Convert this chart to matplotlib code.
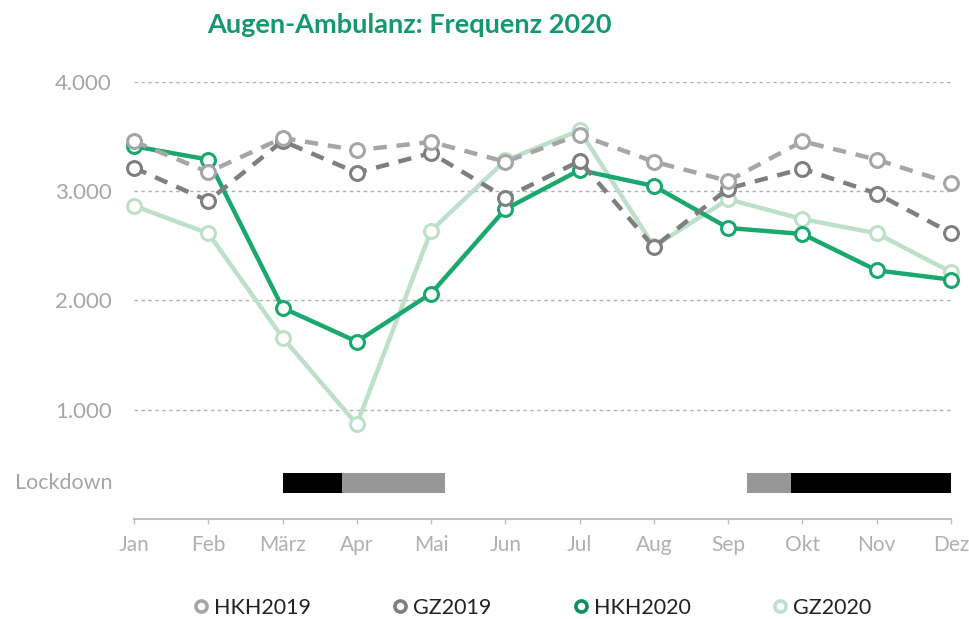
import matplotlib
matplotlib.use("Agg")
import matplotlib.pyplot as plt
from matplotlib.lines import Line2D
from matplotlib.ticker import FuncFormatter

months = ["Jan", "Feb", "März", "Apr", "Mai", "Jun", "Jul", "Aug", "Sep", "Okt", "Nov", "Dez"]
hkh2019 = [3457, 3175, 3488, 3376, 3452, 3270, 3518, 3270, 3095, 3457, 3290, 3073]
gz2019 = [3215, 2912, 3460, 3170, 3350, 2942, 3276, 2488, 3025, 3206, 2979, 2618]
hkh2020 = [3412, 3290, 1933, 1624, 2064, 2836, 3194, 3048, 2664, 2609, 2276, 2191]
gz2020 = [2867, 2615, 1661, 867, 2639, 3282, 3557, 2495, 2927, 2745, 2615, 2260]

# Lockdown periods (start, end in month index units, colour kind)
lock_starts = [2.0, 2.8, 8.25, 8.85]
lock_ends = [2.8, 4.19, 8.85, 11.0]
lock_kind = ["hard", "soft", "soft", "hard"]

plt.rcParams['font.family'] = ['Lato', 'DejaVu Sans']

fig = plt.figure(figsize=(9.69, 6.19), dpi=100)
ax = fig.add_axes([0.1383, 0.1616, 0.8431, 0.7059])

x = list(range(len(months)))

c_hkh19 = "#a6a6a6"
c_gz19 = "#7f7f7f"
c_hkh20 = "#1aa86f"
c_gz20 = "#bde0c9"

common = dict(marker='o', markersize=10, markerfacecolor='white', markeredgewidth=2.2,
              linewidth=3.2, clip_on=False)
ax.plot(x, gz2020, color=c_gz20, markeredgecolor=c_gz20, zorder=3, **common)
ax.plot(x, hkh2020, color=c_hkh20, markeredgecolor=c_hkh20, zorder=4, **common)
ax.plot(x, gz2019, color=c_gz19, markeredgecolor=c_gz19, linestyle=(0, (3, 2.2)), zorder=5, **common)
ax.plot(x, hkh2019, color=c_hkh19, markeredgecolor=c_hkh19, linestyle=(0, (3, 2.2)), zorder=6, **common)

# lockdown bars
for s, e, k in zip(lock_starts, lock_ends, lock_kind):
    ax.barh(330, e - s, left=s, height=185, color="black" if k == "hard" else "#979797",
            zorder=2, clip_on=False)
ax.text(-0.296, 330, "Lockdown", ha='right', va='center', fontsize=15.5, color="#a6a6a6")

ax.set_xlim(0, 11)
ax.set_ylim(0, 4000)
ax.set_yticks([1000, 2000, 3000, 4000])
ax.yaxis.set_major_formatter(FuncFormatter(lambda v, p: f"{int(v):,}".replace(",", ".")))
ax.set_xticks(x)
ax.set_xticklabels(months)

ax.grid(axis='y', color="#b0b0b0", linestyle=(0, (2.5, 2.5)), linewidth=1.0)
ax.set_axisbelow(True)
for s in ['top', 'right', 'left']:
    ax.spines[s].set_visible(False)
ax.spines['bottom'].set_color("#bfbfbf")
ax.spines['bottom'].set_linewidth(1.5)
ax.tick_params(axis='y', length=0, pad=16, labelsize=16, labelcolor="#a6a6a6")
ax.tick_params(axis='x', length=3.5, width=1, color="#bfbfbf", pad=8, labelsize=15,
               labelcolor="#b0b0b0")

fig.text(0.423, 0.96, "Augen-Ambulanz: Frequenz 2020", ha='center', va='center',
         fontsize=19.5, fontweight='bold', color="#14996a")

handles = [
    Line2D([], [], linestyle='none', marker='o', markersize=8, markerfacecolor='white',
           markeredgewidth=2.6, markeredgecolor=c_hkh19),
    Line2D([], [], linestyle='none', marker='o', markersize=8, markerfacecolor='white',
           markeredgewidth=2.6, markeredgecolor=c_gz19),
    Line2D([], [], linestyle='none', marker='o', markersize=8, markerfacecolor='white',
           markeredgewidth=2.6, markeredgecolor="#0f8d5c"),
    Line2D([], [], linestyle='none', marker='o', markersize=8, markerfacecolor='white',
           markeredgewidth=2.6, markeredgecolor=c_gz20),
]
fig.legend(handles, ["HKH2019", "GZ2019", "HKH2020", "GZ2020"], loc='center',
           bbox_to_anchor=(0.549, 0.018), ncol=4, frameon=False, fontsize=15.5,
           handlelength=0.8, handletextpad=0.2, columnspacing=3.75, labelcolor="#222222")

fig.savefig("out.png", dpi=100)
